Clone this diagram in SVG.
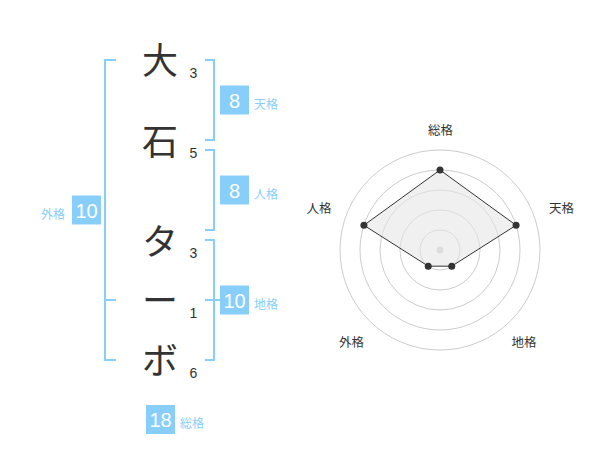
<svg xmlns="http://www.w3.org/2000/svg" width="600" height="470" viewBox="0 0 600 470">
<style>
.ch{font-family:"Noto Sans CJK JP","Noto Sans CJK SC",sans-serif;font-size:36px;fill:#333;text-anchor:middle}
.st{font-family:"Liberation Sans",Arial,sans-serif;font-size:14px;fill:#333;text-anchor:middle}
.br{fill:none;stroke:#87cefa;stroke-width:2}
.bx{fill:#87cefa}
.bn{font-family:"Liberation Sans",Arial,sans-serif;font-size:20px;fill:#fff;text-anchor:middle}
.lb{font-family:"Noto Sans CJK JP","Noto Sans CJK SC",sans-serif;font-size:12px;fill:#87cefa}
.rc{fill:none;stroke:#cccccc;stroke-width:1}
.rl{font-family:"Noto Sans CJK JP","Noto Sans CJK SC",sans-serif;font-size:12.5px;fill:#333;text-anchor:middle}
.pt{fill:#333}
</style>
<g id="chars">
<text class="ch" x="160" y="73.5">大</text>
<text class="ch" x="160" y="155">石</text>
<text class="ch" x="160" y="255">タ</text>
<text class="ch" x="160" y="313.5">ー</text>
<text class="ch" x="160" y="373.5">ボ</text>
</g>
<g id="strokes">
<text class="st" x="193.5" y="78">3</text>
<text class="st" x="193.5" y="158">5</text>
<text class="st" x="193.5" y="258">3</text>
<text class="st" x="193.5" y="318">1</text>
<text class="st" x="193.5" y="378">6</text>
</g>
<g id="connectors">
<path class="br" d="M116,60 H105 V360 H116 M105,300 H116"/>
<path class="br" d="M205,60 H214 V140 H205"/>
<path class="br" d="M205,150 H214 V230 H205"/>
<path class="br" d="M205,240 H214 V360 H205 M205,300 H220"/>
</g>
<g id="tenkaku">
<rect class="bx" x="220" y="85.5" width="29" height="29"/>
<text class="bn" x="234.5" y="107.5">8</text>
<text class="lb" x="254" y="108.5">天格</text>
</g>
<g id="jinkaku">
<rect class="bx" x="220" y="175.5" width="29" height="29"/>
<text class="bn" x="234.5" y="197.5">8</text>
<text class="lb" x="254" y="198.5">人格</text>
</g>
<g id="chikaku">
<rect class="bx" x="220" y="285.5" width="29" height="29"/>
<text class="bn" x="234.5" y="307.5">10</text>
<text class="lb" x="254" y="308.5">地格</text>
</g>
<g id="gaikaku">
<rect class="bx" x="72" y="195.5" width="29" height="29"/>
<text class="bn" x="86.5" y="217.5">10</text>
<text class="lb" x="41" y="218.5">外格</text>
</g>
<g id="soukaku">
<rect class="bx" x="146" y="405" width="29" height="29"/>
<text class="bn" x="160.5" y="427">18</text>
<text class="lb" x="180" y="427.5">総格</text>
</g>
<g id="radar">
<circle class="rc" cx="440" cy="250" r="20"/>
<circle class="rc" cx="440" cy="250" r="40"/>
<circle class="rc" cx="440" cy="250" r="60"/>
<circle class="rc" cx="440" cy="250" r="80"/>
<circle class="rc" cx="440" cy="250" r="100"/>
<circle cx="440" cy="250" r="3.5" fill="#cccccc"/>
<polygon points="440,170 516.08,225.28 451.76,266.18 428.24,266.18 363.92,225.28" fill="#e6e6e6" fill-opacity="0.6" stroke="#333" stroke-width="1"/>
<circle class="pt" cx="440" cy="170" r="3.5"/>
<circle class="pt" cx="516.08" cy="225.28" r="3.5"/>
<circle class="pt" cx="451.76" cy="266.18" r="3.5"/>
<circle class="pt" cx="428.24" cy="266.18" r="3.5"/>
<circle class="pt" cx="363.92" cy="225.28" r="3.5"/>
<text class="rl" x="440.5" y="135">総格</text>
<text class="rl" x="561.5" y="213">天格</text>
<text class="rl" x="319" y="213">人格</text>
<text class="rl" x="351.5" y="346.5">外格</text>
<text class="rl" x="524" y="346.5">地格</text>
</g>
</svg>
